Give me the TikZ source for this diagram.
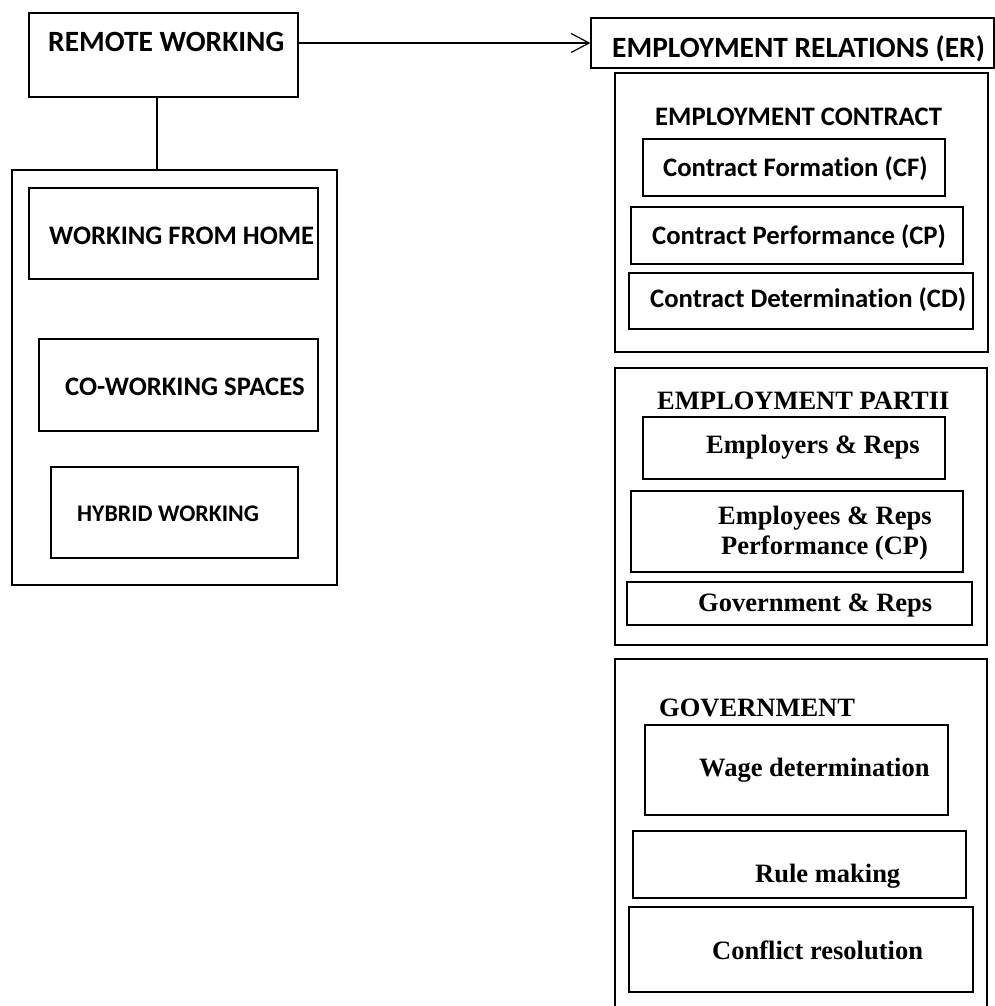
\documentclass[tikz,border=0pt]{standalone}
\usepackage{fontspec}
\setmainfont{Liberation Serif}
\setsansfont{Carlito}[Ligatures=NoCommon]
\usetikzlibrary{arrows.meta}
\usetikzlibrary{positioning}
\tikzstyle{box} = [draw, rectangle, line width=1.2pt, inner sep=0pt]
\tikzstyle{cal} = [inner sep=0pt, anchor=base west, font=\sffamily\bfseries\fontsize{26.7}{30}\selectfont]
\tikzstyle{calbig} = [cal, font=\sffamily\bfseries\fontsize{29.4}{33}\selectfont]
\tikzstyle{calsmall} = [cal, font=\sffamily\bfseries\fontsize{23.8}{27}\selectfont]
\tikzstyle{tms} = [inner sep=0pt, anchor=base west, align=left, font=\rmfamily\bfseries\fontsize{26.5}{30}\selectfont]

\begin{document}
\begin{tikzpicture}[x=1pt, y=-1pt, >={Straight Barb[length=18pt, width=19pt]}]
  \useasboundingbox (0,0) rectangle (995,1006);

  % left side: remote working
  \node [box, minimum width=269pt, minimum height=84pt] (remote) at (163.5,55) {};
  \node [calbig] (remotetxt) at (48,52) {REMOTE WORKING};
  \node [box, minimum width=325pt, minimum height=415pt] (modes) at (174.5,377.5) {};
  \node [box, minimum width=289pt, minimum height=91pt] (home) at (173.5,233.5) {};
  \node [cal] (hometxt) at (49,244) {WORKING FROM HOME};
  \node [box, minimum width=279pt, minimum height=92pt] (cowork) at (178.5,385) {};
  \node [cal] (coworktxt) at (65,395) {CO-WORKING SPACES};
  \node [box, minimum width=247pt, minimum height=91pt] (hybrid) at (174.5,512.5) {};
  \node [calsmall] (hybridtxt) at (77,521) {HYBRID WORKING};

  % right side: employment relations
  \node [box, minimum width=403pt, minimum height=50pt] (er) at (792.5,43) {};
  \node [calbig] (ertxt) at (612,58) {EMPLOYMENT RELATIONS (ER)};

  \node [box, minimum width=373pt, minimum height=279pt] (contract) at (801.5,212.5) {};
  \node [cal] (contracttxt) at (655,126) {EMPLOYMENT CONTRACT};
  \node [box, minimum width=302pt, minimum height=57pt] (cf) at (794,167.5) {};
  \node [cal] (cftxt) at (663,176) {Contract Formation (CF)};
  \node [box, minimum width=332pt, minimum height=57pt] (cp) at (797,235.5) {};
  \node [cal] (cptxt) at (652,244) {Contract Performance (CP)};
  \node [box, minimum width=344pt, minimum height=56pt] (cd) at (801,301) {};
  \node [cal] (cdtxt) at (650,307) {Contract Determination (CD)};

  \node [box, minimum width=372pt, minimum height=277pt] (parties) at (801,506.5) {};
  \node [tms] (partiestxt) at (657,409) {EMPLOYMENT PARTII};
  \node [box, minimum width=302pt, minimum height=62pt] (employers) at (794,448) {};
  \node [tms] (employerstxt) at (706,453) {Employers \& Reps};
  \node [box, minimum width=332pt, minimum height=81pt] (employees) at (797,531.5) {};
  \node [tms, anchor=west] (employeestxt) at (718,533) {Employees \& Reps\\\hspace*{3pt}Performance (CP)};
  \node [box, minimum width=345pt, minimum height=43pt] (govreps) at (799.5,603.5) {};
  \node [tms] (govrepstxt) at (698,611) {Government \& Reps};

  \node [box, minimum width=372pt, minimum height=380pt] (gov) at (801,849) {};
  \node [tms] (govtxt) at (659,716) {GOVERNMENT};
  \node [box, minimum width=303pt, minimum height=90pt] (wage) at (796.5,770) {};
  \node [tms] (wagetxt) at (699,776) {Wage determination};
  \node [box, minimum width=333pt, minimum height=67pt] (rule) at (799.5,864.5) {};
  \node [tms] (ruletxt) at (755,882) {Rule making};
  \node [box, minimum width=344pt, minimum height=85pt] (conflict) at (801,949.5) {};
  \node [tms] (conflicttxt) at (712,959) {Conflict resolution};

  % connectors
  \draw [line width=1.2pt] (remote.south -| 157,0) -- (modes.north -| 157,0);
  \draw [line width=1.2pt, ->] (remote.east |- er.west) -- (er.west);
\end{tikzpicture}
\end{document}
